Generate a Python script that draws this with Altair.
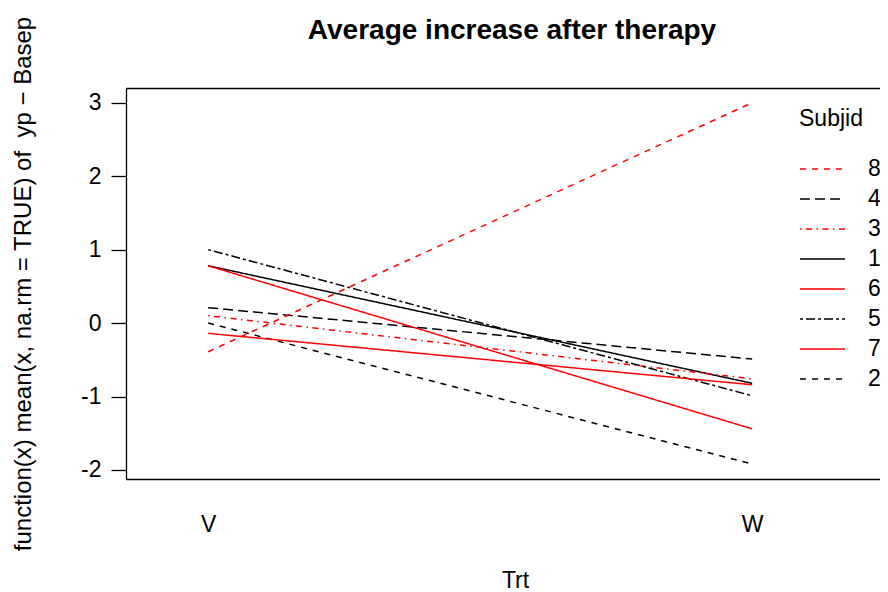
import json
import altair as alt
import pandas as pd

# ---- data ----
trt_levels = ["V", "W"]
subjects = ["1", "2", "3", "4", "5", "6", "7", "8"]
v_values = [0.78, 0.00, 0.10, 0.21, 1.00, -0.14, 0.78, -0.39]
w_values = [-0.82, -1.92, -0.76, -0.49, -0.99, -0.84, -1.44, 3.00]

# legend order (R interaction.plot: sorted by last value, descending)
legend_order = ["8", "4", "3", "1", "6", "5", "7", "2"]
legend_colors = ["#FF0000", "#000000", "#FF0000", "#000000",
                 "#FF0000", "#000000", "#FF0000", "#000000"]
legend_dashes = [[6, 6], [10, 5], [1.5, 4.5, 6, 4.5], [1, 0],
                 [1, 0], [3, 3, 9, 3], [1, 0], [6, 6]]

y_ticks = [-2, -1, 0, 1, 2, 3]

rows = []
for s, v, w in zip(subjects, v_values, w_values):
    rows.append({"Subjid": s, "Trt": trt_levels[0], "value": v})
    rows.append({"Subjid": s, "Trt": trt_levels[1], "value": w})
df = pd.DataFrame(rows)

FONT = "Liberation Sans"
levels_js = json.dumps(trt_levels)

x_scale = alt.Scale(domain=[0.849, 2.235], nice=False, zero=False)
y_scale = alt.Scale(domain=[-2.123, 3.2], nice=False, zero=False)

subj_legend = alt.Legend(
    title="Subjid", orient="none", legendX=673, legendY=20,
    symbolType="stroke", symbolSize=2025, symbolStrokeWidth=1.5,
    labelFontSize=23, titleFontSize=23, titleFontWeight="normal",
    labelFont=FONT, titleFont=FONT, labelColor="black", titleColor="black",
    labelOffset=22, rowPadding=0, clipHeight=30, titlePadding=23,
)

base = alt.Chart(df).transform_calculate(
    xpos=f"indexof({levels_js}, datum.Trt) + 1"
)

lines = base.mark_line(strokeWidth=1.5).encode(
    x=alt.X("xpos:Q", scale=x_scale, axis=alt.Axis(
        values=[1, 2], labelExpr=f"{levels_js}[datum.value - 1]",
        ticks=False, tickSize=0, grid=False, labelFontSize=23, labelFont=FONT,
        labelColor="black", labelPadding=34, domainColor="black", domainWidth=1.3,
        title="Trt", titleFontSize=23, titleFont=FONT, titleFontWeight="normal",
        titleColor="black", titleX=389, titleY=108, titleBaseline="alphabetic",
        titleAlign="center")),
    y=alt.Y("value:Q", scale=y_scale, axis=alt.Axis(
        values=y_ticks, labelExpr="datum.value + ''", tickSize=15,
        tickColor="black", tickWidth=1.3, labelPadding=10, labelFontSize=23,
        labelFont=FONT, labelColor="black", grid=False, domainColor="black",
        domainWidth=1.3,
        title="function(x) mean(x, na.rm = TRUE) of\u00a0 yp \u2212 Basep",
        titleFontSize=24, titleFont=FONT, titleFontWeight="normal",
        titleColor="black", titleAngle=270, titleX=-96, titleY=195.5,
        titleBaseline="alphabetic", titleAlign="center")),
    color=alt.Color("Subjid:N", scale=alt.Scale(domain=legend_order, range=legend_colors),
                    sort=legend_order, legend=subj_legend),
    strokeDash=alt.StrokeDash("Subjid:N", scale=alt.Scale(domain=legend_order, range=legend_dashes),
                              sort=legend_order, legend=subj_legend),
)

top_frame = base.mark_line(opacity=0).encode(
    x=alt.X("xpos:Q", scale=x_scale, axis=alt.Axis(
        orient="top", labels=False, ticks=False, grid=False, title=None,
        domainColor="black", domainWidth=1.3)),
    y=alt.Y("value:Q", scale=y_scale, axis=None),
    detail="Subjid:N",
)

chart = alt.layer(lines, top_frame).resolve_axis(
    x="independent", y="independent"
).properties(
    width=754, height=391,
    autosize=alt.AutoSizeParams(type="none"),
    padding={"left": 118, "top": 80, "right": 0, "bottom": 113},
    title=alt.TitleParams(
        "Average increase after therapy", fontSize=28, fontWeight="bold",
        font=FONT, color="black", anchor="middle", frame="group",
        baseline="alphabetic", offset=-51, dx=9),
).configure_view(stroke=None).configure(background="white")

chart.save("out.html", embed_options={"renderer": "svg", "actions": False})
